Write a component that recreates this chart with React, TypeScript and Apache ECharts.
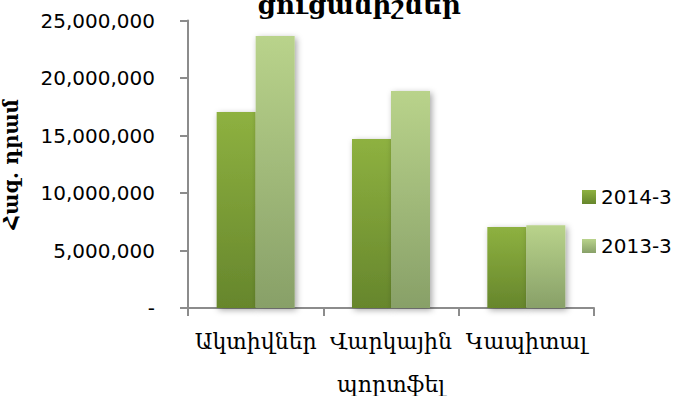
import React, { useEffect, useRef } from "react";
import * as echarts from "echarts";

const categories = ["Ակտիվներ", "Վարկային պորտֆել", "Կապիտալ"];
const seriesNames = ["2014-3", "2013-3"];
const values2014 = [17040000, 14700000, 7040000];
const values2013 = [23650000, 18870000, 7200000];
const titleText = "ցուցանիշներ";
const yAxisName = "Հազ. դրամ";

const serif = "'DejaVu Serif', serif";
const sans = "'DejaVu Sans', sans-serif";

function grad(top: string, bottom: string) {
  return new echarts.graphic.LinearGradient(0, 0, 0, 1, [
    { offset: 0, color: top },
    { offset: 1, color: bottom },
  ]);
}

export default function App() {
  const ref = useRef<HTMLDivElement>(null);
  useEffect(() => {
    if (!ref.current) return;
    const chart = echarts.init(ref.current, undefined, { renderer: "svg" });
    const shadow = {
      shadowBlur: 6,
      shadowColor: "rgba(0,0,0,0.35)",
      shadowOffsetX: 2,
      shadowOffsetY: 2,
    };
    chart.setOption({
      animation: false,
      backgroundColor: "#ffffff",
      grid: {
        left: 188,
        right: 83,
        top: 20.5,
        bottom: 88,
        containLabel: false,
        outerBoundsMode: "none",
      },
      graphic: [
        {
          type: "text",
          x: 359,
          y: 18,
          style: {
            text: titleText,
            font: `bold 26px ${serif}`,
            fill: "#000",
            align: "center",
            verticalAlign: "bottom",
          },
        },
      ],
      legend: {
        orient: "vertical",
        left: 577,
        top: 182,
        itemWidth: 14,
        itemHeight: 14,
        itemGap: 29,
        icon: "rect",
        textStyle: { fontFamily: sans, fontSize: 20, color: "#000" },
        data: seriesNames,
      },
      xAxis: {
        type: "category",
        data: categories,
        axisLine: { lineStyle: { color: "#8c8c8c", width: 2 } },
        axisTick: { show: true, length: 8, lineStyle: { color: "#8c8c8c", width: 2 } },
        axisLabel: {
          interval: 0,
          fontFamily: serif,
          fontSize: 22,
          color: "#000",
          lineHeight: 43,
          margin: 12,
          formatter: (v: string) => v.replace(" ", "\n"),
        },
      },
      yAxis: {
        type: "value",
        min: 0,
        max: 25000000,
        interval: 5000000,
        name: yAxisName,
        nameLocation: "middle",
        nameRotate: 90,
        nameGap: 167,
        nameTextStyle: { fontFamily: serif, fontSize: 20, fontWeight: "bold", color: "#000" },
        axisLine: { show: true, lineStyle: { color: "#8c8c8c", width: 2 } },
        axisTick: { show: true, length: 8, lineStyle: { color: "#8c8c8c", width: 2 } },
        splitLine: { show: false },
        axisLabel: {
          fontFamily: sans,
          fontSize: 20,
          color: "#000",
          margin: 33,
          formatter: (v: number) => (v === 0 ? "-" : v.toLocaleString("en-US")),
        },
      },
      series: [
        {
          name: seriesNames[0],
          type: "bar",
          data: values2014,
          barWidth: 39,
          barGap: "0%",
          itemStyle: { color: grad("#8eb140", "#66862c"), ...shadow },
        },
        {
          name: seriesNames[1],
          type: "bar",
          data: values2013,
          barWidth: 39,
          barGap: "0%",
          itemStyle: { color: grad("#b9d38b", "#88a068"), ...shadow },
        },
      ],
    });
    return () => chart.dispose();
  }, []);
  return <div ref={ref} style={{ width: 677, height: 396, position: "absolute", left: 0, top: 0 }} />;
}
